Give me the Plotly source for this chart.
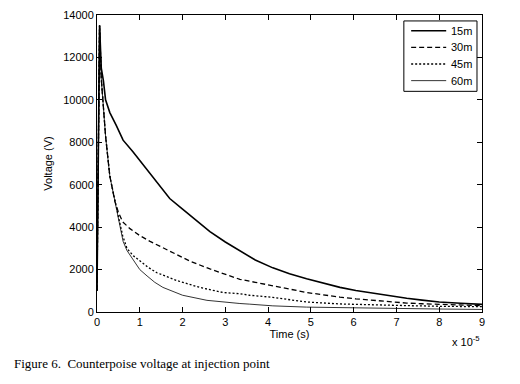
import plotly.graph_objects as go

# Time in units of 1e-5 s
t15 = [0, 0.06, 0.1, 0.15, 0.2, 0.3, 0.45, 0.61, 0.84, 1.0, 1.24, 1.5, 1.7, 2.0, 2.17, 2.4, 2.64, 3.0, 3.34, 3.7, 4.11, 4.5, 4.9, 5.3, 5.68, 6.05, 6.45, 6.85, 7.24, 7.6, 8.0, 8.5, 9.0]
v15 = [1000, 13500, 11500, 10900, 10000, 9400, 8800, 8100, 7550, 7150, 6500, 5850, 5350, 4850, 4570, 4150, 3790, 3300, 2870, 2450, 2080, 1800, 1570, 1350, 1160, 1010, 880, 760, 650, 560, 470, 410, 360]

t30 = [0, 0.06, 0.1, 0.15, 0.2, 0.3, 0.42, 0.5, 0.6, 0.77, 1.0, 1.24, 1.7, 2.17, 2.64, 3.1, 3.34, 3.7, 4.11, 4.5, 4.9, 5.3, 5.68, 6.05, 6.45, 6.85, 7.24, 7.6, 8.0, 8.5, 9.0]
v30 = [1000, 13500, 11000, 9600, 8300, 6400, 5200, 4700, 4250, 3930, 3600, 3330, 2870, 2400, 2030, 1710, 1540, 1400, 1250, 1080, 920, 800, 700, 620, 550, 480, 420, 390, 360, 330, 300]

t45 = [0, 0.06, 0.1, 0.15, 0.2, 0.3, 0.42, 0.5, 0.6, 0.7, 0.85, 1.0, 1.2, 1.4, 1.87, 2.4, 2.94, 3.34, 3.57, 4.11, 4.5, 4.9, 5.68, 6.45, 7.24, 8.0, 9.0]
v45 = [1000, 13500, 11000, 9600, 8300, 6400, 5200, 4500, 3600, 3000, 2650, 2400, 2100, 1850, 1480, 1160, 920, 860, 790, 690, 570, 470, 380, 330, 300, 270, 250]

t60 = [0, 0.06, 0.1, 0.15, 0.2, 0.3, 0.42, 0.5, 0.61, 0.7, 0.84, 1.0, 1.17, 1.35, 1.54, 2.0, 2.57, 3.1, 3.34, 3.57, 4.11, 4.9, 5.68, 6.45, 7.24, 8.0, 9.0]
v60 = [1000, 13500, 11000, 9600, 8300, 6400, 5200, 4450, 3330, 2900, 2500, 2000, 1700, 1400, 1160, 790, 550, 430, 400, 370, 290, 230, 200, 180, 160, 140, 120]

names = ["15m", "30m", "45m", "60m"]
x_ticks = [0, 1, 2, 3, 4, 5, 6, 7, 8, 9]
y_ticks = [0, 2000, 4000, 6000, 8000, 10000, 12000, 14000]

styles = [
    dict(width=1.6, dash="solid"),
    dict(width=1.3, dash="5px,3px"),
    dict(width=1.3, dash="2px,2px"),
    dict(width=0.8, dash="solid"),
]

fig = go.Figure()
for name, tx, vy, st in zip(names, [t15, t30, t45, t60], [v15, v30, v45, v60], styles):
    fig.add_trace(go.Scatter(x=tx, y=vy, mode="lines", name=name,
                             line=dict(color="black", width=st["width"], dash=st["dash"])))

font_s = "Liberation Sans, Arial"
axis_common = dict(showline=True, linecolor="black", linewidth=1, mirror="ticks",
                   ticks="inside", ticklen=5, tickcolor="black", showgrid=False,
                   zeroline=False, tickfont=dict(family=font_s, size=11, color="black"))

fig.update_layout(
    width=520, height=384,
    margin=dict(l=97, r=38, t=9, b=72),
    paper_bgcolor="white", plot_bgcolor="white",
    showlegend=False,
    xaxis=dict(range=[0, 9], tickvals=x_ticks, ticktext=[str(v) for v in x_ticks],
               title=dict(text="Time (s)", font=dict(family=font_s, size=11, color="black"), standoff=2),
               **axis_common),
    yaxis=dict(range=[0, 14000], tickvals=y_ticks, ticktext=[str(v) for v in y_ticks],
               title=dict(text="Voltage (V)", font=dict(family=font_s, size=11, color="black"), standoff=8),
               **axis_common),
)

# Legend box drawn manually (MATLAB-style compact legend)
lx0, lx1, ly0, ly1 = 0.797, 0.987, 0.743, 0.980
fig.add_shape(type="rect", xref="paper", yref="paper", x0=lx0, x1=lx1, y0=ly0, y1=ly1,
              line=dict(color="black", width=1), fillcolor="white", layer="above")
row_y = [0.947, 0.891, 0.835, 0.779]
for name, st, ry in zip(names, styles, row_y):
    fig.add_shape(type="line", xref="paper", yref="paper", x0=0.816, x1=0.907, y0=ry, y1=ry,
                  line=dict(color="black", width=st["width"], dash=st["dash"]), layer="above")
    fig.add_annotation(text=name, xref="paper", yref="paper", x=0.978, y=ry,
                       xanchor="right", yanchor="middle", showarrow=False,
                       font=dict(family=font_s, size=11, color="black"))

fig.add_annotation(text="x 10<sup>-5</sup>", xref="paper", yref="paper", x=1.0, y=-0.067,
                   xanchor="right", yanchor="top", showarrow=False,
                   font=dict(family=font_s, size=11, color="black"))
fig.add_annotation(text="Figure 6.  Counterpoise voltage at injection point", xref="paper", yref="paper",
                   x=-0.22, y=-0.14, xanchor="left", yanchor="top", showarrow=False,
                   font=dict(family="Liberation Serif, Times New Roman", size=13, color="black"))

fig.write_html("out.html", config={"displayModeBar": False},
               post_script="document.body.style.margin='0';")
